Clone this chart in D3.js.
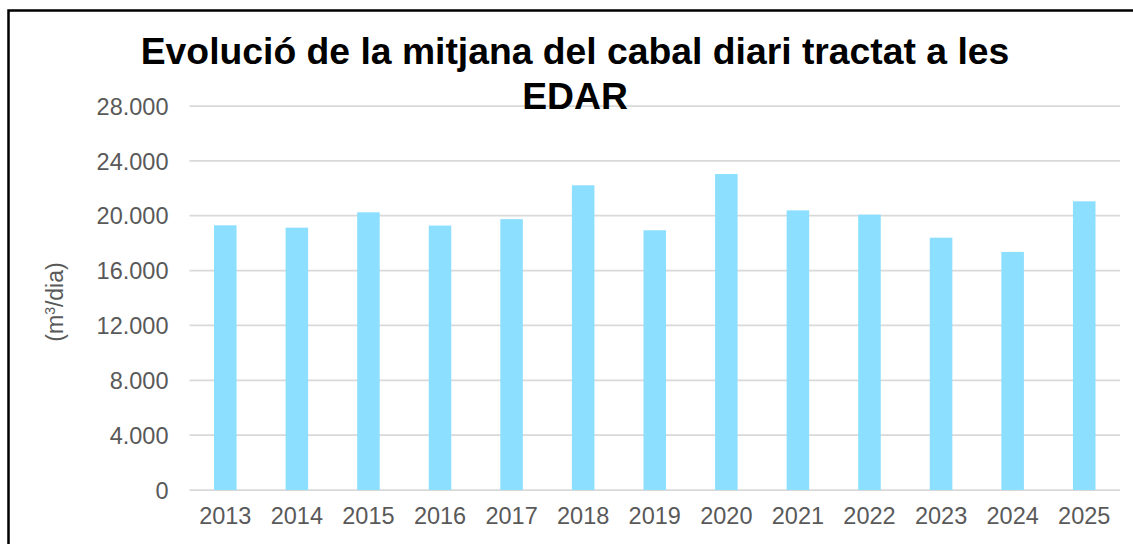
<!DOCTYPE html>
<html>
<head>
<meta charset="utf-8">
<script src="https://cdn.jsdelivr.net/npm/d3@7"></script>
<style>
  body { margin: 0; background: #fff; }
  svg { display: block; font-family: "Liberation Sans", Arial, sans-serif; }
</style>
</head>
<body>
<div id="chart"></div>
<script>
// data
const years = ['2013','2014','2015','2016','2017','2018','2019','2020','2021','2022','2023','2024','2025'];
const cabal = [19300, 19130, 20250, 19280, 19750, 22220, 18940, 23040, 20390, 20080, 18400, 17360, 21050];
const yTicks = [0, 4000, 8000, 12000, 16000, 20000, 24000, 28000];
const titleLines = ['Evolució de la mitjana del cabal diari tractat a les', 'EDAR'];

const width = 1133, height = 544;
const margin = {top: 106, right: 13, bottom: 54, left: 189.5};

const svg = d3.select('#chart')
  .append('svg')
  .attr('width', width)
  .attr('height', height);

// outer frame
svg.append('rect')
  .attr('x', 8.5).attr('y', 10.5)
  .attr('width', 1140).attr('height', 560)
  .attr('fill', 'none')
  .attr('stroke', '#000')
  .attr('stroke-width', 2.5);

const x = d3.scaleBand()
  .domain(years)
  .range([margin.left, width - margin.right])
  .paddingInner(0.685)
  .paddingOuter(0.3425);

const y = d3.scaleLinear()
  .domain([0, 28000])
  .range([height - margin.bottom, margin.top]);

const fmt = d => d3.format(',')(d).replace(/,/g, '.');

// grid
svg.append('g')
  .selectAll('line')
  .data(yTicks)
  .enter().append('line')
  .attr('x1', margin.left)
  .attr('x2', width - margin.right)
  .attr('y1', d => y(d))
  .attr('y2', d => y(d))
  .style('stroke', '#d9d9d9')
  .style('stroke-width', 1.75);

// bars
svg.append('g')
  .selectAll('rect')
  .data(years)
  .enter().append('rect')
  .attr('x', d => x(d))
  .attr('width', x.bandwidth())
  .attr('y', (d, i) => y(cabal[i]))
  .attr('height', (d, i) => y(0) - y(cabal[i]))
  .attr('fill', '#8ddfff');

// y axis
const yAxis = svg.append('g')
  .attr('transform', `translate(${margin.left},0)`)
  .call(d3.axisLeft(y).tickValues(yTicks).tickFormat(fmt).tickSize(0).tickPadding(21));
yAxis.select('.domain').remove();
yAxis.selectAll('text')
  .attr('fill', '#595959')
  .style('font-size', '23.5px')
  .attr('dy', '0.35em');

// x axis
const xAxis = svg.append('g')
  .attr('transform', `translate(0,${y(0)})`)
  .call(d3.axisBottom(x).tickSize(0).tickPadding(17));
xAxis.select('.domain').remove();
xAxis.selectAll('text')
  .attr('fill', '#595959')
  .style('font-size', '23.5px');

// y label
svg.append('text')
  .attr('transform', `translate(63,${(y(0) + y(28000)) / 2 + 4}) rotate(-90)`)
  .attr('text-anchor', 'middle')
  .attr('fill', '#595959')
  .style('font-size', '23px')
  .text('(m')
  .append('tspan').attr('baseline-shift', 'super').style('font-size', '14px').text('3')
  .select(function() { return this.parentNode; })
  .append('tspan').text('/dia)');

// title
svg.append('g')
  .selectAll('text')
  .data(titleLines)
  .enter().append('text')
  .attr('x', 575)
  .attr('y', (d, i) => 64 + i * 45)
  .attr('text-anchor', 'middle')
  .attr('font-weight', 'bold')
  .style('font-size', '37.3px')
  .attr('fill', '#000')
  .text(d => d);
</script>
</body>
</html>
